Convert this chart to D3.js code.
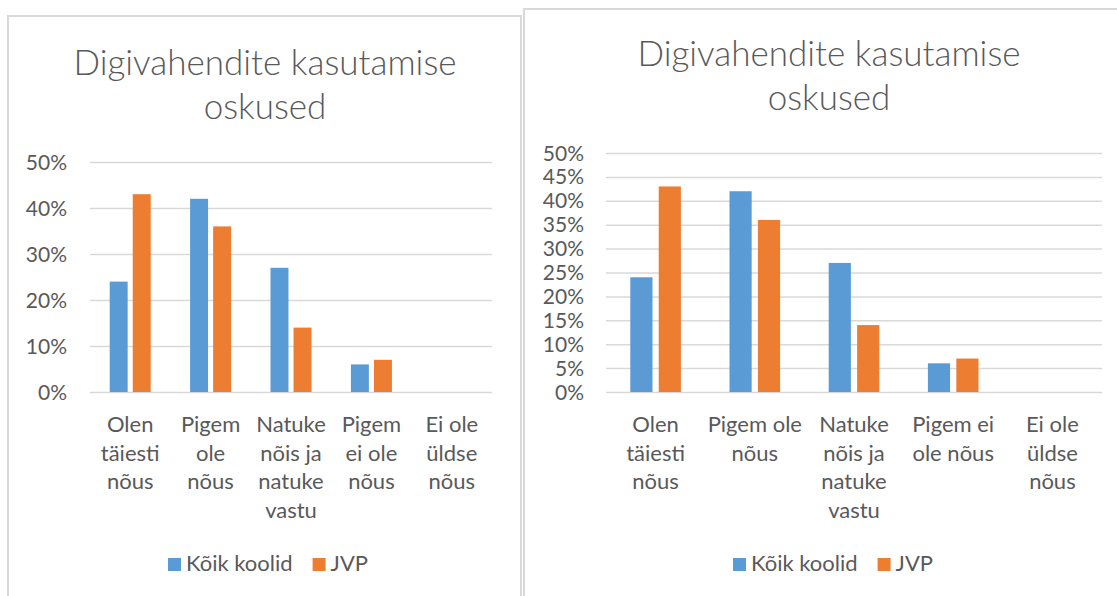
<!DOCTYPE html>
<html lang="et">
<head>
    <meta charset="UTF-8">
    <title>Digivahendite kasutamise oskused</title>
    <script src="https://d3js.org/d3.v7.min.js"></script>
    <style>
        body { margin: 0; background: #ffffff; }
        svg text { font-family: Lato, "Open Sans", sans-serif; fill: #595959; }
        .grid line { stroke: #d9d9d9; stroke-width: 1.5; }
        .box { fill: none; stroke: #d9d9d9; stroke-width: 2; }
    </style>
</head>
<body>
<script>
// chart values (percent)
const seriesNames = ["Kõik koolid", "JVP"];
const seriesColors = ["#5b9bd5", "#ed7d31"];
const koikKoolid = [24, 42, 27, 6, 0];
const jvp = [43, 36, 14, 7, 0];

const categories = ["Olen täiesti nõus", "Pigem ole nõus", "Natuke nõis ja natuke vastu", "Pigem ei ole nõus", "Ei ole üldse nõus"];
// how the labels wrap in each chart
const labelLinesLeft = [["Olen", "täiesti", "nõus"], ["Pigem", "ole", "nõus"], ["Natuke", "nõis ja", "natuke", "vastu"], ["Pigem", "ei ole", "nõus"], ["Ei ole", "üldse", "nõus"]];
const labelLinesRight = [["Olen", "täiesti", "nõus"], ["Pigem ole", "nõus"], ["Natuke", "nõis ja", "natuke", "vastu"], ["Pigem ei", "ole nõus"], ["Ei ole", "üldse", "nõus"]];

const titleLines = ["Digivahendite kasutamise", "oskused"];
const ticksLeft = [0, 10, 20, 30, 40, 50];
const ticksRight = [0, 5, 10, 15, 20, 25, 30, 35, 40, 45, 50];

const svg = d3.select("body").append("svg")
    .attr("width", 1117)
    .attr("height", 596);

function drawChart(cfg) {
    const g = svg.append("g");

    // chart frame
    g.append("rect").attr("class", "box")
        .attr("x", cfg.box[0]).attr("y", cfg.box[1])
        .attr("width", cfg.box[2]).attr("height", cfg.box[3]);

    // title
    g.append("text")
        .attr("text-anchor", "middle")
        .style("font-size", "35px")
        .style("font-weight", 300)
        .selectAll("tspan")
        .data(titleLines)
        .join("tspan")
        .attr("x", cfg.titleX)
        .attr("y", (d, i) => cfg.titleY + i * 44)
        .text(d => d);

    const y = d3.scaleLinear().domain([0, 50]).range([cfg.bottom, cfg.top]);
    const x0 = d3.scaleBand().domain(categories).range([cfg.left, cfg.right])
        .paddingInner(0.49).paddingOuter(0.245);
    const x1 = d3.scaleBand().domain(seriesNames).range([0, x0.bandwidth()]).paddingInner(0.22);

    // gridlines
    g.append("g").attr("class", "grid")
        .attr("transform", `translate(${cfg.left},0)`)
        .call(d3.axisLeft(y).tickValues(cfg.ticks).tickSize(-(cfg.right - cfg.left)).tickFormat(""))
        .call(s => s.select(".domain").remove());

    // y labels
    g.append("g")
        .selectAll("text")
        .data(cfg.ticks)
        .join("text")
        .attr("x", cfg.labelX)
        .attr("y", d => y(d))
        .attr("dy", "0.36em")
        .attr("text-anchor", "end")
        .style("font-size", "21px")
        .text(d => d + "%");

    // bars
    const values = [koikKoolid, jvp];
    g.append("g")
        .selectAll("g")
        .data(categories)
        .join("g")
        .attr("transform", d => `translate(${x0(d)},0)`)
        .selectAll("rect")
        .data((d, i) => seriesNames.map((s, j) => ({ s: s, v: values[j][i], c: seriesColors[j] })))
        .join("rect")
        .attr("x", d => x1(d.s))
        .attr("y", d => y(d.v))
        .attr("width", x1.bandwidth())
        .attr("height", d => y(0) - y(d.v))
        .attr("fill", d => d.c);

    // category labels
    g.append("g")
        .selectAll("text")
        .data(categories)
        .join("text")
        .attr("text-anchor", "middle")
        .style("font-size", "22px")
        .each(function(d, i) {
            d3.select(this).selectAll("tspan")
                .data(cfg.labelLines[i])
                .join("tspan")
                .attr("x", x0(d) + x0.bandwidth() / 2)
                .attr("y", (t, k) => cfg.bottom + 40 + k * 28.5)
                .text(t => t);
        });

    // legend
    const leg = g.append("g");
    let lx = 0;
    seriesNames.forEach((name, j) => {
        leg.append("rect")
            .attr("x", lx).attr("y", -13)
            .attr("width", 13).attr("height", 13)
            .attr("fill", seriesColors[j]);
        const t = leg.append("text")
            .attr("x", lx + 18).attr("y", 0)
            .style("font-size", "22px")
            .text(name);
        lx += 18 + t.node().getComputedTextLength() + 20;
    });
    lx -= 20;
    leg.attr("transform", `translate(${cfg.legendX - lx / 2},${cfg.legendY})`);
}

drawChart({
    box: [8, 16, 513, 600],
    titleX: 265, titleY: 75,
    left: 90, right: 492, top: 162, bottom: 392,
    ticks: ticksLeft, labelX: 67,
    labelLines: labelLinesLeft,
    legendX: 268, legendY: 571
});

drawChart({
    box: [524, 9, 620, 600],
    titleX: 829, titleY: 66,
    left: 606, right: 1102, top: 153, bottom: 392,
    ticks: ticksRight, labelX: 584,
    labelLines: labelLinesRight,
    legendX: 833, legendY: 571
});
</script>
</body>
</html>
